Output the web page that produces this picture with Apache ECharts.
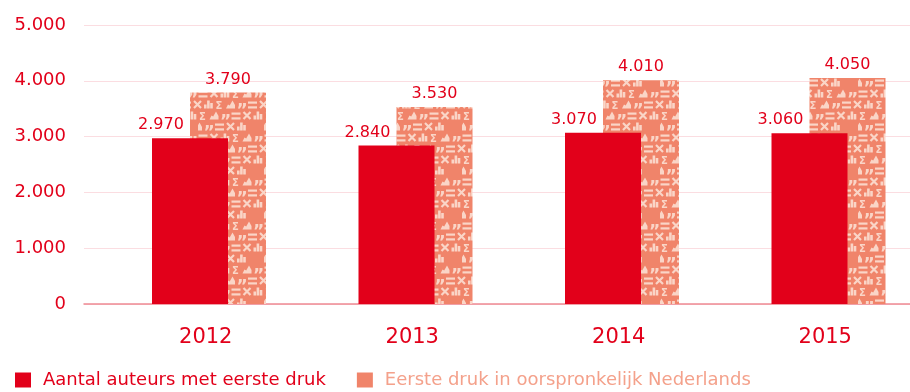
<!DOCTYPE html>
<html>
<head>
<meta charset="utf-8">
<script src="https://cdn.jsdelivr.net/npm/echarts@6/dist/echarts.min.js"></script>
<style>html,body{margin:0;padding:0;background:#fff}#c{width:910px;height:392px}</style>
</head>
<body>
<div id="c"></div>
<script>
var categories = ['2012', '2013', '2014', '2015'];
var seriesNames = ['Aantal auteurs met eerste druk', 'Eerste druk in oorspronkelijk Nederlands'];
var auteurs = [2970, 2840, 3070, 3060];
var nederlands = [3790, 3530, 4010, 4050];
var spacer = [0, 0, 0, 0];
var yTicks = [0, 1000, 2000, 3000, 4000, 5000];

var RED = '#E2001A';
var SALMON = '#F0846A';
var ICON = '#FAD5C7';
var FONT = 'DejaVu Sans';

function fmt(v) { return String(v).replace(/\B(?=(\d{3})+(?!\d))/g, '.'); }

function makePattern() {
  var cw = 11, ch = 11, n = 6, rows = 4, shift = 16.5;
  var c = document.createElement('canvas');
  c.width = cw * n; c.height = ch * rows;
  var g = c.getContext('2d');
  g.fillStyle = SALMON; g.fillRect(0, 0, c.width, c.height);
  g.fillStyle = ICON; g.strokeStyle = ICON;
  function icon(k, x, y) {
    var b = y + 9.5;
    switch (k) {
      case 0: // equals
        g.fillRect(x + 0.5, b - 7, 9, 2.2);
        g.fillRect(x + 0.5, b - 2.2, 9, 2.2);
        break;
      case 1: // times
        g.lineWidth = 2.2; g.beginPath();
        g.moveTo(x + 1.5, b - 7.5); g.lineTo(x + 8.5, b - 0.5); g.moveTo(x + 8.5, b - 7.5); g.lineTo(x + 1.5, b - 0.5);
        g.stroke();
        break;
      case 2: // bar chart
        g.fillRect(x + 0.5, b - 4, 2.6, 4);
        g.fillRect(x + 3.6, b - 8, 2.6, 8);
        g.fillRect(x + 6.7, b - 5.5, 2.6, 5.5);
        break;
      case 3: // sigma
        g.font = 'bold 10px DejaVu Sans'; g.textBaseline = 'alphabetic';
        g.fillText('\u03A3', x + 1, b);
        break;
      case 4: // area chart
        g.beginPath(); g.moveTo(x + 0.5, b); g.lineTo(x + 2.5, b - 4); g.lineTo(x + 4.2, b - 3);
        g.lineTo(x + 7, b - 8); g.lineTo(x + 9.5, b - 3.5); g.lineTo(x + 9.5, b); g.closePath(); g.fill();
        break;
      case 5: // quote
        g.font = 'bold 17px DejaVu Sans'; g.textBaseline = 'alphabetic';
        g.fillText('\u201D', x + 0, b + 7);
        break;
    }
  }
  for (var r = 0; r < rows; r++) {
    var off = -r * shift;
    for (var i = -2; i <= n + 2; i++) {
      icon(((i % n) + n) % n, i * cw + off, r * ch);
    }
  }
  return c;
}

var chart = echarts.init(document.getElementById('c'), null, { renderer: 'canvas' });
var pattern = { image: makePattern(), repeat: 'repeat' };

var option = {
  animation: false,
  textStyle: { fontFamily: FONT },
  grid: { left: 84, right: 0, top: 25, bottom: 88 },
  legend: {
    left: 15, top: 371, padding: 0,
    itemWidth: 16, itemHeight: 15, itemGap: 31,
    icon: 'rect',
    data: [
      { name: seriesNames[0], textStyle: { color: RED }, itemStyle: { color: RED } },
      { name: seriesNames[1], textStyle: { color: '#F4A18B' }, itemStyle: { color: SALMON } }
    ],
    textStyle: { fontSize: 18, fontFamily: FONT, padding: [0, 0, 0, 7] }
  },
  xAxis: {
    type: 'category', data: categories,
    axisLine: { show: true, lineStyle: { color: '#EE8A94', width: 1.5 } },
    axisTick: { show: false },
    axisLabel: { color: RED, fontSize: 21, fontFamily: FONT, margin: 23, padding: [0, 0, 0, 37] }
  },
  yAxis: {
    type: 'value', min: yTicks[0], max: yTicks[yTicks.length - 1], interval: 1000,
    axisLine: { show: false }, axisTick: { show: false },
    splitLine: { show: true, lineStyle: { color: '#FBDDE1', width: 1 } },
    axisLabel: { color: RED, fontSize: 18, fontFamily: FONT, margin: 18, formatter: fmt }
  },
  series: [
    { name: '_spacer', type: 'bar', data: spacer, barWidth: 87, barGap: '-50%',
      silent: true, itemStyle: { opacity: 0 }, label: { show: false } },
    { name: seriesNames[0], type: 'bar', data: auteurs,
      barWidth: 76, barGap: '-50%', z: 3,
      itemStyle: { color: RED },
      label: { show: true, position: 'top', distance: 5, offset: [-29, 0], color: RED,
        fontSize: 16, fontFamily: FONT, formatter: function (p) { return fmt(p.value); } } },
    { name: seriesNames[1], type: 'bar', data: nederlands,
      barWidth: 76, barGap: '-50%', z: 2,
      itemStyle: { color: pattern },
      label: { show: true, position: 'top', distance: 5, offset: [0, 0], color: RED,
        fontSize: 16, fontFamily: FONT, formatter: function (p) { return fmt(p.value); } } }
  ]
};
chart.setOption(option);
</script>
</body>
</html>
